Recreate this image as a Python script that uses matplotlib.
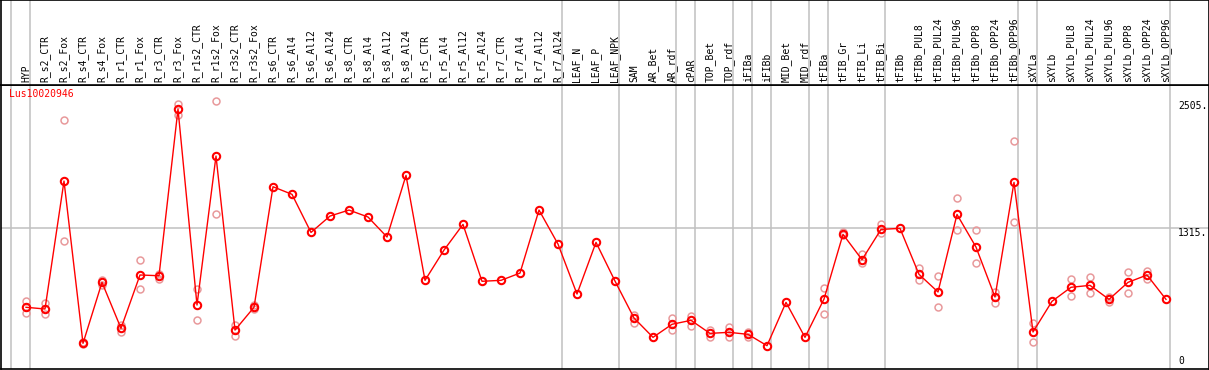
"""
Expression profile of one gene across tissues/treatments, drawn as a
mean line with replicate circles behind it.
"""

import numpy as np
import matplotlib
matplotlib.use("Agg")
import matplotlib.pyplot as plt

_OUTPUT = "out.png"
_GENE = "Lus10020946"

SAMPLES = [
    "HYP", "R_s2_CTR", "R_s2_Fox", "R_s4_CTR", "R_s4_Fox", "R_r1_CTR", "R_r1_Fox",
    "R_r3_CTR", "R_r3_Fox", "R_r1s2_CTR", "R_r1s2_Fox", "R_r3s2_CTR", "R_r3s2_Fox",
    "R_s6_CTR", "R_s6_Al4", "R_s6_Al12", "R_s6_Al24", "R_s8_CTR", "R_s8_Al4",
    "R_s8_Al12", "R_s8_Al24", "R_r5_CTR", "R_r5_Al4", "R_r5_Al12", "R_r5_Al24",
    "R_r7_CTR", "R_r7_Al4", "R_r7_Al12", "R_r7_Al24", "LEAF_N", "LEAF_P", "LEAF_NPK",
    "SAM", "AR_Bet", "AR_rdf", "cPAR", "TOP_Bet", "TOP_rdf", "iFIBa", "iFIBb",
    "MID_Bet", "MID_rdf", "tFIBa", "tFIB_Gr", "tFIB_Li", "tFIB_Bi", "tFIBb",
    "tFIBb_PUL8", "tFIBb_PUL24", "tFIBb_PUL96", "tFIBb_OPP8", "tFIBb_OPP24",
    "tFIBb_OPP96", "sXYLa", "sXYLb", "sXYLb_PUL8", "sXYLb_PUL24", "sXYLb_PUL96",
    "sXYLb_OPP8", "sXYLb_OPP24", "sXYLb_OPP96",
]

MEAN = [
    577, 561, 1757, 240, 810, 380, 879, 872, 2430, 598, 1991, 364, 577,
    1704, 1633, 1277, 1430, 1486, 1421, 1234, 1810, 829, 1112, 1352, 820,
    829, 897, 1486, 1168, 701, 1184, 822, 477, 296, 418, 455, 333, 343, 324, 218,
    623, 296, 654, 1259, 1022, 1305, 1315, 885, 720, 1445, 1140, 673, 1745,
    346, 633, 764, 782, 651, 810, 879, 651,
]

# replicate values (None = hidden behind the mean marker)
REP_HIGH = [
    638, 614, 2324, 250, 832, 411, 1016, 890, 2477, 745, 2505, 411, 600,
    None, None, None, None, None, None, None, None, None, None, None, None,
    None, None, None, None, None, None, None, 502, None, 474, 498, 364, 390, 343, None,
    None, None, 754, 1283, 1075, 1355, None, 941, 869, 1598, 1299, 723, 2131,
    427, None, 838, 863, 673, 907, 919, None,
]
REP_LOW = [
    526, 511, 1196, 232, 785, 349, 745, 838, 2374, 458, 1446, 308, 560,
    None, None, None, None, None, None, None, None, None, None, None, None,
    None, None, None, None, None, None, None, 433, None, 364, 405, 296, 302, 302, None,
    None, None, 511, 1250, 988, 1268, None, 832, 577, 1302, 988, 614, 1371,
    250, None, 682, 707, 631, 710, 838, None,
]

# last sample index of each group (vertical separators)
GROUP_ENDS = [-1, 0, 28, 31, 34, 35, 37, 38, 39, 41, 42, 45, 52, 53, 60]

Y_TICKS = [2505, 1315, 0]
Y_MAX = 2505 * 1.06

_FONT = "DejaVu Sans Mono"
_GRID = "#c0c0c0"
_RED = "#ff0000"
_PINK = "#e8999b"


def to_array(vals):
    return np.array([np.nan if v is None else v for v in vals], dtype=float)


def make_plot(output_path):
    W, H = 1209, 370
    fig = plt.figure(figsize=(W / 100, H / 100), dpi=100)

    # pixel layout: header 0..85, plot 85..369
    ax = fig.add_axes([0.5 / W, 1 / H, 1208 / W, 284 / H])
    ax_head = fig.add_axes([0.5 / W, 285 / H, 1208 / W, 85 / H], sharex=ax)

    x = np.arange(len(SAMPLES))
    # column i sits at pixel 26 + 19 * i
    ax.set_xlim((0.5 - 26) / 19, (1208.5 - 26) / 19)
    ax.set_ylim(0, Y_MAX)
    ax_head.set_ylim(0, 1)

    for a in (ax, ax_head):
        a.set_xticks([])
        a.set_yticks([])
        for s in a.spines.values():
            s.set_color("black")
            s.set_linewidth(1.2)
        for k in GROUP_ENDS:
            a.axvline(k + 0.23, color=_GRID, linewidth=1.1, zorder=0)

    ax.axhline(Y_TICKS[1], color=_GRID, linewidth=1.1, zorder=0)

    hi = to_array(REP_HIGH)
    lo = to_array(REP_LOW)
    for reps in (hi, lo):
        ax.plot(x, reps, linestyle="none", marker="o", markersize=5,
                markerfacecolor="none", markeredgecolor=_PINK,
                markeredgewidth=1.1, zorder=2, clip_on=False)

    ax.plot(x, MEAN, color=_RED, linewidth=1.0, zorder=3)
    ax.plot(x, MEAN, linestyle="none", marker="o", markersize=5.3,
            markerfacecolor="none", markeredgecolor=_RED,
            markeredgewidth=1.5, zorder=4)

    for xi, name in zip(x, SAMPLES):
        ax_head.text(xi, 0.03, name, rotation=90, ha="center", va="bottom",
                     fontsize=7, family=_FONT, color="black")

    ax.text(8.5 / 1208, 1 - 4 / 284, _GENE, transform=ax.transAxes,
            ha="left", va="top", fontsize=7, family=_FONT, color=_RED)

    x_lab = (1178 - 26) / 19
    ax.text(x_lab, Y_TICKS[0], f"{Y_TICKS[0]}.", ha="left", va="top",
            fontsize=7, family=_FONT)
    ax.text(x_lab, Y_TICKS[1], f"{Y_TICKS[1]}.", ha="left", va="top",
            fontsize=7, family=_FONT)
    ax.text(x_lab, 25, f"{Y_TICKS[2]}", ha="left", va="bottom",
            fontsize=7, family=_FONT)

    fig.savefig(output_path, dpi=100)
    plt.close(fig)


def main():
    make_plot(_OUTPUT)


if __name__ == "__main__":
    main()
